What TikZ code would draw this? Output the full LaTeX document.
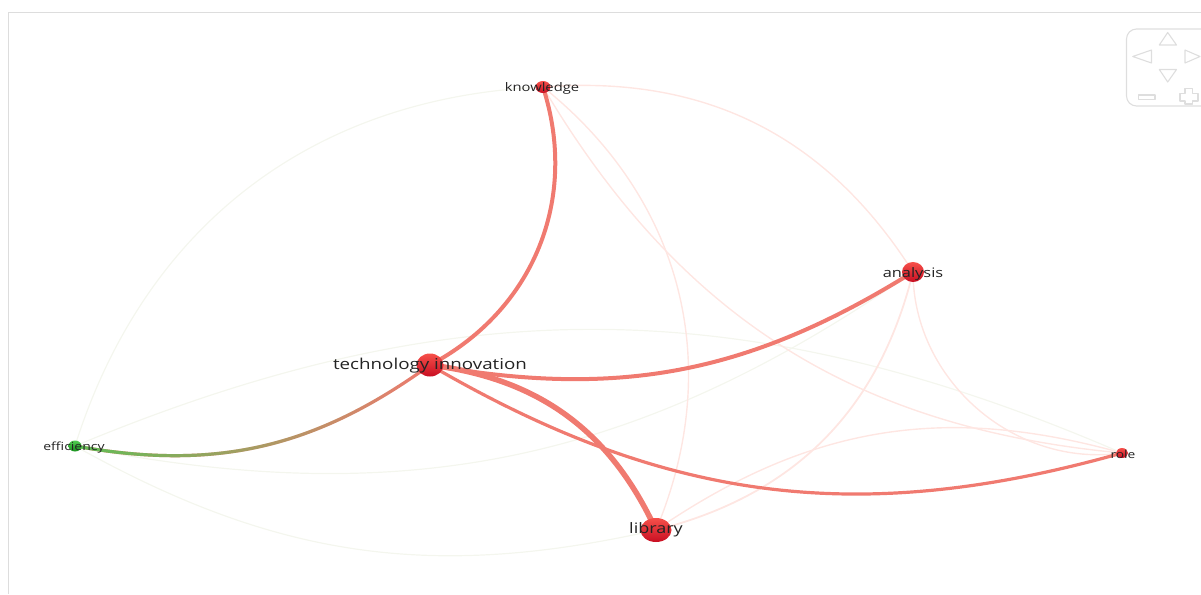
\documentclass[tikz,border=0pt]{standalone}
\usepackage{fontspec}
\setmainfont{Open Sans}
\newfontfamily\labfont[FakeStretch=1.25]{Open Sans}
\usetikzlibrary{fadings,shapes.geometric,calc}
\pgfdeclarelayer{edges}
\pgfsetlayers{edges,main}
\definecolor{strongred}{RGB}{240,122,112}
\definecolor{faintred}{RGB}{254,230,226}
\definecolor{faintgreen}{RGB}{244,246,238}
\definecolor{noderedtop}{RGB}{246,80,74}
\definecolor{nodereddark}{RGB}{200,14,34}
\definecolor{nodegreentop}{RGB}{80,205,80}
\definecolor{nodegreendark}{RGB}{25,145,30}
\definecolor{edgegreen}{RGB}{95,190,85}
\definecolor{navgray}{RGB}{222,222,222}
\definecolor{framegray}{RGB}{221,221,221}
\definecolor{labelcol}{RGB}{35,35,35}
\tikzfading[name=greenfade, left color=transparent!0, right color=transparent!100]
\begin{document}
\begin{tikzpicture}[x=1pt,y=1pt,
  rdot/.style 2 args={ellipse, inner sep=0pt, minimum width=#1, minimum height=#2,
    top color=noderedtop, bottom color=nodereddark, draw=none},
  gdot/.style 2 args={ellipse, inner sep=0pt, minimum width=#1, minimum height=#2,
    top color=nodegreentop, bottom color=nodegreendark, draw=none},
  lab/.style={font=\labfont\fontsize{#1}{#1}\selectfont, text=labelcol, inner sep=0pt},
  strong/.style={draw=strongred, line width=#1},
  weak/.style={draw=faintred, line width=1.4},
  weakg/.style={draw=faintgreen, line width=1.2},
  nav/.style={draw=navgray, line width=1.1, line join=round},
  bl/.style={to path={.. controls ($(\tikztostart)!0.3915!#1:(\tikztotarget)$)
     and ($(\tikztotarget)!0.3915!-#1:(\tikztostart)$) .. (\tikztotarget)}},
  br/.style={to path={.. controls ($(\tikztostart)!0.3915!-#1:(\tikztotarget)$)
     and ($(\tikztotarget)!0.3915!#1:(\tikztostart)$) .. (\tikztotarget)}},
]
\useasboundingbox (0,0) rectangle (1201,-594);
% frame
\draw[framegray, line width=1] (8.5,-594) -- (8.5,-12.5) -- (1201,-12.5);

% nodes
\node[rdot={15}{12}] (k) at (543,-87) {};
\node[rdot={27}{23}] (ti) at (430,-365) {};
\node[rdot={22}{20}] (a) at (913,-272) {};
\node[gdot={13}{11}] (e) at (75,-446) {};
\node[rdot={31}{24}] (l) at (656,-530) {};
\node[rdot={12}{10}] (r) at (1122,-453) {};

% labels
\node[lab=11.8] (k-t) at (542,-88) {knowledge};
\node[lab=15] (ti-t) at (430,-366) {technology innovation};
\node[lab=13.1] (a-t) at (913,-274) {analysis};
\node[lab=11.2] (e-t) at (74,-447.5) {efficiency};
\node[lab=14.4] (l-t) at (656,-530) {library};
\node[lab=11] (r-t) at (1123,-454) {role};

\begin{pgfonlayer}{edges}
  % faint edges
  \draw[weakg] (k.center) to[br=35] (e.center);
  \draw[weakg] (e.center) to[bl=23] (r.center);
  \draw[weakg] (e.center) to[br=23] (a.center);
  \draw[weakg] (e.center) to[br=21] (l.center);
  \draw[weak] (k.center) to[bl=31] (a.center);
  \draw[weak] (k.center) to[bl=37] (l.center);
  \draw[weak] (k.center) to[br=27] (r.center);
  \draw[weak, line width=1.8] (a.center) to[bl=31] (l.center);
  \draw[weak] (a.center) to[br=49] (r.center);
  \draw[weak] (l.center) to[bl=25] (r.center);
  % strong edges
  \draw[strong=4] (k.center) to[bl=40] (ti.center);
  \draw[strong=4] (ti.center) to[br=21] (a.center);
  \draw[strong=5.5] (ti.center) to[bl=29] (l.center);
  \draw[strong=3.2] (ti.center) to[br=23] (r.center);
  \draw[strong=3.2] (e.center) to[br=23] (ti.center);
  \draw[draw=edgegreen, line width=3.2, path fading=greenfade] (e.center) to[br=23] (ti.center);
\end{pgfonlayer}

% navigation control
\draw[nav, rounded corners=10] (1126.5,-29) rectangle (1216,-106);
\draw[nav] (1159.3,-45) -- (1167.7,-32.5) -- (1176.5,-45) -- cycle;
\draw[nav] (1159.3,-69.5) -- (1176.5,-69.5) -- (1167.7,-82) -- cycle;
\draw[nav] (1132.7,-56.5) -- (1151.5,-50) -- (1151.5,-63) -- cycle;
\draw[nav] (1185,-50) -- (1185,-63) -- (1200,-56.5) -- cycle;
\draw[nav] (1138.3,-95) rectangle (1155,-99.5);
\draw[nav] (1185,-88.5) -- (1192.5,-88.5) -- (1192.5,-93.5) -- (1198,-93.5) -- (1198,-101)
  -- (1192.5,-101) -- (1192.5,-104) -- (1185,-104) -- (1185,-101) -- (1180,-101)
  -- (1180,-93.5) -- (1185,-93.5) -- cycle;
\end{tikzpicture}
\end{document}
